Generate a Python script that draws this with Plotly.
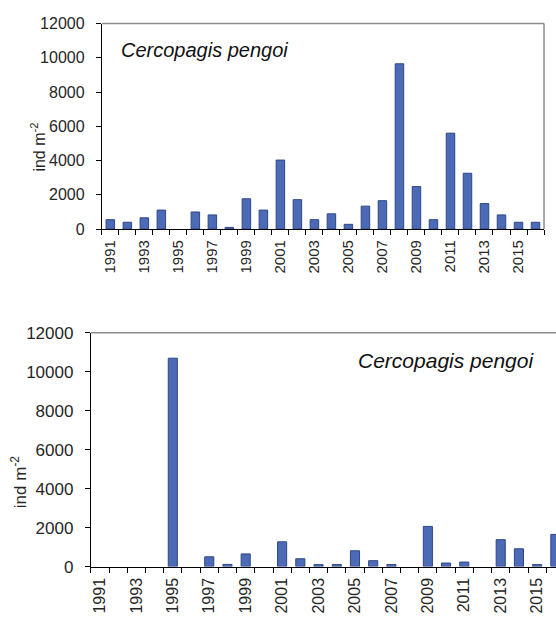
import plotly.graph_objects as go

years = [str(y) for y in range(1991, 2017)]
tick_text = [y if int(y) % 2 == 1 else "" for y in years]

top_values = [550, 400, 660, 1110, 0, 1000, 830, 100, 1770, 1110,
              4030, 1720, 550, 890, 280, 1340, 1660, 9650, 2480, 550,
              5600, 3260, 1490, 830, 400, 400]
bottom_values = [0, 0, 0, 0, 10700, 0, 500, 110, 650, 0,
                 1270, 400, 100, 100, 810, 300, 100, 0, 2060, 180,
                 230, 0, 1380, 910, 100, 1650]

species = "Cercopagis pengoi"
ytitle = "ind m<sup>-2</sup>"
ytickvals = [0, 2000, 4000, 6000, 8000, 10000, 12000]

W, H = 556, 626
FONT = "Liberation Sans, Arial, sans-serif"
BAR_FILL = "#4D6AB6"
BAR_LINE = "#2C4785"
TXT = "#262626"


def fx(px):
    return px / W


def fy(py):
    return 1 - py / H


def outline(vals):
    return [1 if v > 0 else 0 for v in vals]


fig = go.Figure()
fig.add_trace(go.Bar(x=years, y=top_values, xaxis="x", yaxis="y",
                     marker=dict(color=BAR_FILL,
                                 line=dict(color=BAR_LINE, width=outline(top_values))),
                     width=0.5, showlegend=False))
fig.add_trace(go.Bar(x=years, y=bottom_values, xaxis="x2", yaxis="y2",
                     marker=dict(color=BAR_FILL,
                                 line=dict(color=BAR_LINE, width=outline(bottom_values))),
                     width=0.5, showlegend=False))


def xaxis_cfg(domain, rng, size, anchor):
    return dict(type="category", domain=domain, range=rng, anchor=anchor,
                showgrid=False, zeroline=False,
                showline=True, linecolor="#000", linewidth=1,
                tickmode="array", tickvals=years, ticktext=tick_text,
                tickson="boundaries",
                tickangle=-90, ticks="outside", ticklen=5, tickcolor="#000", tickwidth=1,
                tickfont=dict(family=FONT, size=size, color=TXT),
                ticklabelstandoff=4)


def yaxis_cfg(domain, size, anchor):
    return dict(domain=domain, range=[0, 12000], anchor=anchor,
                showgrid=False, zeroline=False,
                showline=True, linecolor="#000", linewidth=1,
                tickmode="array", tickvals=ytickvals, tickformat="d",
                ticks="outside", ticklen=5, tickcolor="#000",
                tickfont=dict(family=FONT, size=size, color=TXT),
                ticklabelstandoff=8)


xa = xaxis_cfg([fx(101), fx(544)], [-0.5, 25.5], 15, "y")
ya = yaxis_cfg([fy(227), fy(15)], 16, "x")
xb = xaxis_cfg([fx(90), 1.0], [-0.5, -0.5 + 466 / 18.25], 16, "y2")
yb = yaxis_cfg([fy(575), fy(334)], 17, "x2")

GREY = dict(color="#8C8C8C", width=1.5)
shapes = [
    dict(type="line", xref="x domain", yref="y domain", x0=0, x1=1, y0=1, y1=1, line=GREY),
    dict(type="line", xref="x domain", yref="y domain", x0=1, x1=1, y0=0, y1=1, line=GREY),
    dict(type="line", xref="x2 domain", yref="y2 domain", x0=0, x1=1, y0=1, y1=1, line=GREY),
]

annotations = [
    dict(text="<i>" + species + "</i>", xref="paper", yref="paper", x=fx(204), y=fy(42),
         showarrow=False, xanchor="center", yanchor="middle",
         font=dict(family=FONT, size=20, color="#111")),
    dict(text="<i>" + species + "</i>", xref="paper", yref="paper", x=fx(446), y=fy(363),
         showarrow=False, xanchor="center", yanchor="middle",
         font=dict(family=FONT, size=21, color="#111")),
    dict(text=ytitle, xref="paper", yref="paper", x=fx(37), y=fy(142),
         showarrow=False, xanchor="center", yanchor="middle", textangle=-90,
         font=dict(family=FONT, size=16, color=TXT)),
    dict(text=ytitle, xref="paper", yref="paper", x=fx(18), y=fy(487),
         showarrow=False, xanchor="center", yanchor="middle", textangle=-90,
         font=dict(family=FONT, size=17, color=TXT)),
]

fig.update_layout(
    width=W, height=H, autosize=False,
    margin=dict(l=0, r=0, t=0, b=0, pad=0),
    paper_bgcolor="white", plot_bgcolor="white",
    xaxis=xa, yaxis=ya, xaxis2=xb, yaxis2=yb,
    shapes=shapes, annotations=annotations,
    bargap=0.5, showlegend=False,
)

fig.write_html("out.html",
               config={"displayModeBar": False},
               post_script="document.body.style.margin='0';document.body.style.overflow='hidden';")
